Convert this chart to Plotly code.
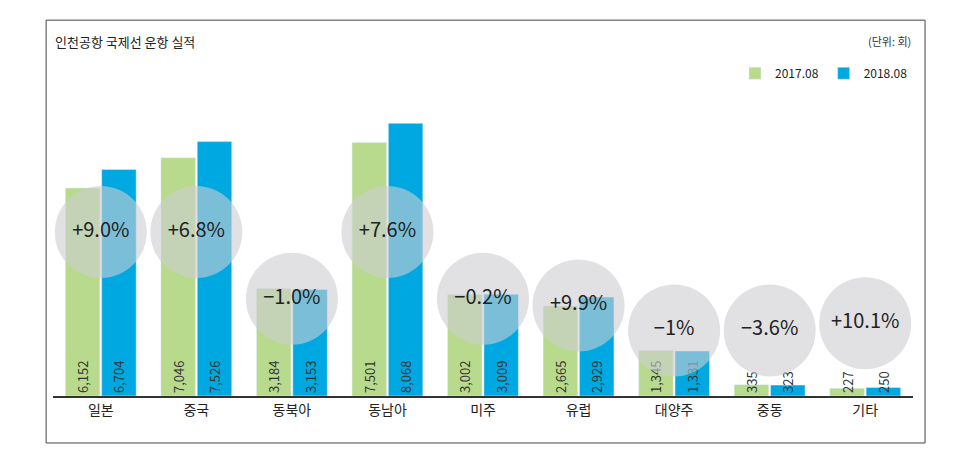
import plotly.graph_objects as go

categories = ["일본", "중국", "동북아", "동남아", "미주", "유럽", "대양주", "중동", "기타"]
v2017 = [6152, 7046, 3184, 7501, 3002, 2665, 1345, 335, 227]
v2018 = [6704, 7526, 3153, 8068, 3009, 2929, 1331, 323, 250]
changes = ["+9.0%", "+6.8%", "−1.0%", "+7.6%", "−0.2%", "+9.9%", "−1%", "−3.6%", "+10.1%"]
bubble_y = [4850, 4850, 2880, 4850, 2880, 2680, 1940, 1940, 2150]

FONT = "Noto Sans CJK KR"
fig = go.Figure()
for name, vals, col in [("2017.08", v2017, "#b7da8c"), ("2018.08", v2018, "#00a8e2")]:
    fig.add_trace(go.Bar(x=categories, y=vals, name=name, marker_color=col,
                         text=[f"{v:,}" for v in vals], textposition="inside",
                         insidetextanchor="start", textangle=-90,
                         textfont=dict(size=13, color="#333", family=FONT),
                         constraintext="none", cliponaxis=False))
fig.add_trace(go.Scatter(x=categories, y=bubble_y, mode="markers+text", text=changes,
                         textposition="middle center", showlegend=False,
                         marker=dict(size=92, color="rgba(205,205,210,0.6)", line=dict(width=0)),
                         textfont=dict(size=20, color="#222", family=FONT), cliponaxis=False))
fig.update_layout(
    width=956, height=465, plot_bgcolor="white", paper_bgcolor="white",
    margin=dict(l=45, r=51, t=50, b=77, autoexpand=False),
    barmode="group", bargap=0.24, bargroupgap=0.05,
    font=dict(family=FONT, color="#222"),
    legend=dict(orientation="h", x=1.0, xanchor="right", y=0.955, yanchor="middle",
                font=dict(size=12), traceorder="normal", bgcolor="rgba(0,0,0,0)"),
    xaxis=dict(showline=True, linecolor="#333", linewidth=1.5, ticks="",
               range=[-0.5, 8.5], tickfont=dict(size=14, color="#222")),
    yaxis=dict(range=[0, 10000], visible=False),
    shapes=[dict(type="rect", xref="paper", yref="paper", x0=-0.008, x1=1.014,
                 y0=-0.139, y1=1.112, line=dict(color="#444", width=1))],
    annotations=[
        dict(text="인천공항 국제선 운항 실적", xref="paper", yref="paper", x=0.0, y=1.05,
             xanchor="left", yanchor="middle", showarrow=False, font=dict(size=13, color="#222")),
        dict(text="(단위: 회)", xref="paper", yref="paper", x=1.0, y=1.05,
             xanchor="right", yanchor="middle", showarrow=False, font=dict(size=11, color="#333")),
    ],
)
fig.write_html("out.html")
